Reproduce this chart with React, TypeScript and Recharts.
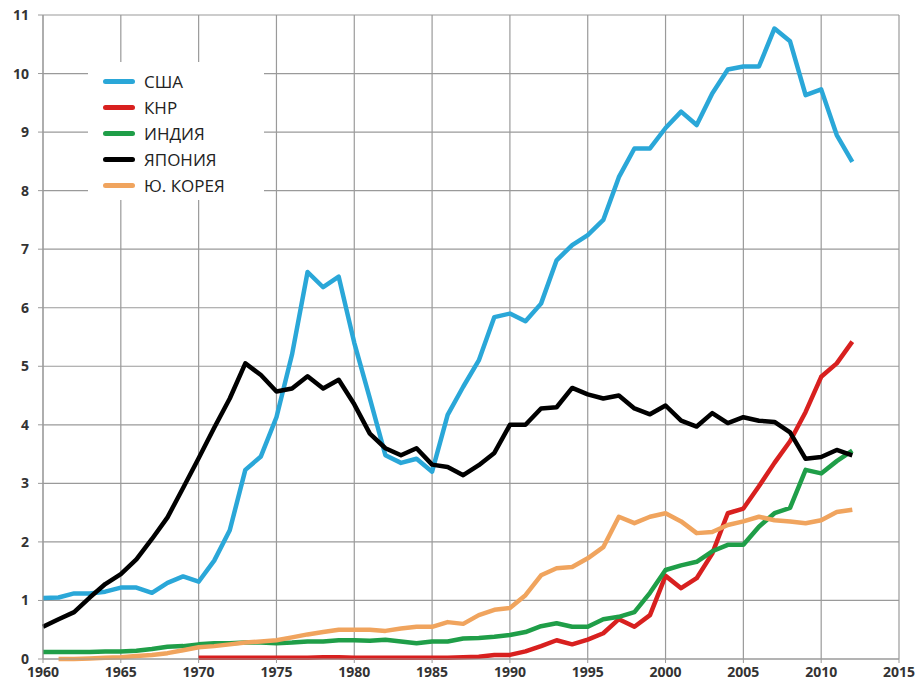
import { CartesianGrid, Legend, Line, LineChart, XAxis, YAxis } from "recharts";

const years = Array.from({ length: 53 }, (_, i) => 1960 + i);

// values, 1960..2012
const usa = [
  1.04, 1.05, 1.12, 1.12, 1.15, 1.22, 1.22, 1.13, 1.3, 1.41,
  1.32, 1.68, 2.2, 3.23, 3.46, 4.13, 5.2, 6.61, 6.35, 6.53,
  5.4, 4.45, 3.48, 3.35, 3.42, 3.2, 4.17, 4.65, 5.1, 5.84,
  5.9, 5.77, 6.07, 6.81, 7.07, 7.24, 7.5, 8.23, 8.72, 8.72,
  9.07, 9.35, 9.12, 9.66, 10.07, 10.12, 10.12, 10.77, 10.55, 9.63,
  9.73, 8.95, 8.49,
];
const china = [
  null, null, null, null, null, null, null, null, null, null,
  0.02, 0.02, 0.02, 0.02, 0.02, 0.02, 0.02, 0.02, 0.03, 0.03,
  0.02, 0.02, 0.02, 0.02, 0.02, 0.02, 0.02, 0.03, 0.04, 0.07,
  0.07, 0.13, 0.22, 0.32, 0.25, 0.33, 0.44, 0.68, 0.55, 0.75,
  1.42, 1.21, 1.38, 1.8, 2.49, 2.57, 2.95, 3.35, 3.72, 4.22,
  4.82, 5.05, 5.42,
];
const india = [
  0.12, 0.12, 0.12, 0.12, 0.13, 0.13, 0.14, 0.17, 0.21, 0.22,
  0.25, 0.27, 0.27, 0.28, 0.28, 0.27, 0.28, 0.3, 0.3, 0.32,
  0.32, 0.31, 0.33, 0.3, 0.27, 0.3, 0.3, 0.35, 0.36, 0.38,
  0.41, 0.46, 0.56, 0.61, 0.55, 0.55, 0.68, 0.72, 0.8, 1.13,
  1.52, 1.6, 1.66, 1.84, 1.95, 1.95, 2.26, 2.49, 2.58, 3.23,
  3.17, 3.38, 3.56,
];
const japan = [
  0.55, 0.68, 0.8, 1.05, 1.28, 1.45, 1.7, 2.05, 2.42, 2.92,
  3.43, 3.95, 4.45, 5.05, 4.85, 4.57, 4.62, 4.83, 4.62, 4.77,
  4.35, 3.85, 3.6, 3.48, 3.6, 3.32, 3.28, 3.14, 3.31, 3.52,
  4.0, 4.0, 4.28, 4.3, 4.63, 4.52, 4.45, 4.5, 4.28, 4.18,
  4.33, 4.07, 3.97, 4.2, 4.03, 4.13, 4.07, 4.05, 3.87, 3.42,
  3.45, 3.57, 3.48,
];
const korea = [
  null, 0.0, 0.0, 0.01, 0.02, 0.03, 0.05, 0.07, 0.1, 0.15,
  0.2, 0.22, 0.25, 0.28, 0.3, 0.32, 0.37, 0.42, 0.46, 0.5,
  0.5, 0.5, 0.48, 0.52, 0.55, 0.55, 0.63, 0.6, 0.75, 0.84,
  0.87, 1.09, 1.43, 1.55, 1.57, 1.72, 1.91, 2.43, 2.32, 2.43,
  2.49, 2.35, 2.15, 2.17, 2.29, 2.35, 2.43, 2.37, 2.35, 2.32,
  2.37, 2.51, 2.55,
];

const xTicks = [1960, 1965, 1970, 1975, 1980, 1985, 1990, 1995, 2000, 2005, 2010, 2015];
const yTicks = [0, 1, 2, 3, 4, 5, 6, 7, 8, 9, 10, 11];

const series = [
  { key: "usa", name: "США", color: "#2aa7d8" },
  { key: "china", name: "КНР", color: "#d8201f" },
  { key: "india", name: "ИНДИЯ", color: "#1f9e48" },
  { key: "japan", name: "ЯПОНИЯ", color: "#000000" },
  { key: "korea", name: "Ю. КОРЕЯ", color: "#f0a45e" },
];

const data = years.map((year, i) => ({
  year,
  usa: usa[i],
  china: china[i],
  india: india[i],
  japan: japan[i],
  korea: korea[i],
}));

const tickStyle = {
  fontFamily: "'Open Sans', sans-serif",
  fontWeight: 700,
  fontSize: 14,
  fill: "#333",
};

function LegendBox() {
  return (
    <div
      style={{
        background: "#fff",
        boxSizing: "border-box",
        width: 176,
        height: 138,
        padding: "6px 0 0 15px",
        fontFamily: "'Open Sans', sans-serif",
        fontSize: 17,
        color: "#222",
        textAlign: "left",
      }}
    >
      {series.map((s) => (
        <div key={s.key} style={{ display: "flex", alignItems: "center", height: 26 }}>
          <span
            style={{
              display: "inline-block",
              flexShrink: 0,
              width: 32,
              height: 5,
              borderRadius: 3,
              background: s.color,
              marginRight: 9,
            }}
          />
          {s.name}
        </div>
      ))}
    </div>
  );
}

export default function App() {
  return (
    <div style={{ position: "absolute", left: 0, top: 0, background: "#fff" }}>
      <LineChart
        width={919}
        height={691}
        data={data}
        margin={{ top: 15, right: 20, left: 0, bottom: 0 }}
      >
        <CartesianGrid stroke="#9a9a9a" strokeWidth={1.2} />
        <XAxis
          dataKey="year"
          type="number"
          domain={[1960, 2015]}
          ticks={xTicks}
          interval={0}
          height={32}
          tick={tickStyle}
          tickSize={4}
          tickMargin={4}
          stroke="#9a9a9a"
        />
        <YAxis
          type="number"
          domain={[0, 11]}
          ticks={yTicks}
          interval={0}
          width={43}
          tick={tickStyle}
          tickSize={5}
          tickMargin={9}
          stroke="#9a9a9a"
        />
        <Legend
          layout="vertical"
          align="center"
          verticalAlign="middle"
          wrapperStyle={{ left: 88, top: 62, width: 176, height: 138 }}
          content={() => <LegendBox />}
        />
        {series.map((s) => (
          <Line
            key={s.key}
            dataKey={s.key}
            name={s.name}
            stroke={s.color}
            strokeWidth={4.5}
            strokeLinejoin="round"
            dot={false}
            isAnimationActive={false}
          />
        ))}
      </LineChart>
    </div>
  );
}
